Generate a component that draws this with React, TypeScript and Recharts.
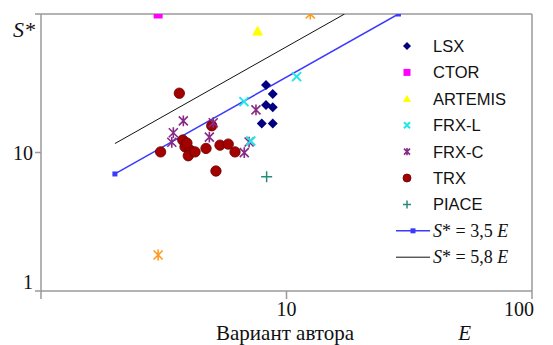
import { ScatterChart, Scatter, XAxis, YAxis, Legend, Label, ReferenceLine } from "recharts";

// E (x) and S* (y) values
const lsxE = [8.25, 8.79, 8.25, 8.79, 7.93, 8.79];
const lsxS = [30.7, 26.4, 22.0, 21.2, 16.2, 16.2];

const ctorE = [3.0];
const ctorS = [100];

const artemisE = [7.63];
const artemisS = [75.4];

const frxlE = [6.71, 11.0, 7.15];
const frxlS = [23.3, 35.3, 12.1];

const frxcE = [3.8, 3.46, 3.41, 5.03, 4.85, 7.51, 6.73, 7.04];
const frxcS = [16.9, 13.9, 11.85, 16.4, 12.9, 20.3, 9.97, 11.9];

const trxE = [3.66, 3.07, 3.78, 3.86, 4.05, 3.98, 4.24, 4.7, 4.96, 5.36, 5.79, 6.17, 5.16, 3.93];
const trxS = [26.8, 10.1, 12.3, 11.0, 10.4, 9.48, 10.1, 10.7, 15.6, 11.3, 11.5, 10.1, 7.35, 11.7];

const piaceE = [8.3];
const piaceS = [6.69];

const otherE = [3.0, 12.5];
const otherS = [1.82, 100];

const fit35E = [2.0, 28.57];
const fit35S = [7.0, 100];
const fit58E = [2.0, 17.24];
const fit58S = [11.6, 100];

const xTicks = [1, 10, 100];
const yTicks = [1, 10, 100];

const zip = (xs: number[], ys: number[]) => xs.map((x, i) => ({ x, y: ys[i] }));

const SERIF = "'Liberation Serif', 'Times New Roman', serif";
const SANS = "'Liberation Sans', Arial, sans-serif";
const AXIS = "#9a9a9a";

const C = {
  lsx: "#000080",
  ctor: "#ff00ff",
  artemis: "#ffff00",
  frxl: "#22e6e6",
  frxc: "#862a86",
  trx: "#a30000",
  piace: "#2a8a7a",
  other: "#ff9a1a",
  blue: "#3a3aff",
};

const diamond = (cx: number, cy: number, s: number, fill: string) => (
  <path d={`M${cx},${cy - s}L${cx + s},${cy}L${cx},${cy + s}L${cx - s},${cy}Z`} fill={fill} />
);
const square = (cx: number, cy: number, s: number, fill: string) => (
  <rect x={cx - s} y={cy - s} width={s * 2} height={s * 2} fill={fill} />
);
const triangle = (cx: number, cy: number, s: number, fill: string) => (
  <path d={`M${cx},${cy - s}L${cx + s},${cy + s * 0.8}L${cx - s},${cy + s * 0.8}Z`} fill={fill} />
);
const xMark = (cx: number, cy: number, s: number, stroke: string) => (
  <path d={`M${cx - s},${cy - s}L${cx + s},${cy + s}M${cx + s},${cy - s}L${cx - s},${cy + s}`} stroke={stroke} strokeWidth={2} />
);
const star = (cx: number, cy: number, s: number, stroke: string) => (
  <path
    d={`M${cx - s},${cy - s}L${cx + s},${cy + s}M${cx + s},${cy - s}L${cx - s},${cy + s}M${cx},${cy - s * 1.2}L${cx},${cy + s * 1.2}`}
    stroke={stroke}
    strokeWidth={1.6}
  />
);
const plus = (cx: number, cy: number, s: number, stroke: string) => (
  <path d={`M${cx - s},${cy}L${cx + s},${cy}M${cx},${cy - s}L${cx},${cy + s}`} stroke={stroke} strokeWidth={1.5} />
);
const dot = (cx: number, cy: number, r: number, fill: string) => (
  <circle cx={cx} cy={cy} r={r} fill={fill} stroke="#6a0000" strokeWidth={0.8} />
);

const legendRows = [
  { name: "LSX", icon: (x: number, y: number) => diamond(x, y, 4, C.lsx) },
  { name: "CTOR", icon: (x: number, y: number) => square(x, y, 3.5, C.ctor) },
  { name: "ARTEMIS", icon: (x: number, y: number) => triangle(x, y, 4, C.artemis) },
  { name: "FRX-L", icon: (x: number, y: number) => xMark(x, y, 3, C.frxl) },
  { name: "FRX-C", icon: (x: number, y: number) => star(x, y, 3, C.frxc) },
  { name: "TRX", icon: (x: number, y: number) => dot(x, y, 4, C.trx) },
  { name: "PIACE", icon: (x: number, y: number) => plus(x, y, 4, C.piace) },
];

const LegendBox = () => (
  <svg width={125} height={240} style={{ background: "#fff", display: "block" }}>
    {legendRows.map((r, i) => {
      const cy = 13 + i * 26.4;
      return (
        <g key={r.name}>
          {r.icon(12, cy)}
          <text x={38} y={cy + 6} fontFamily={SANS} fontSize={16.5} fill="#111">
            {r.name}
          </text>
        </g>
      );
    })}
    {[
      { k: "3,5", stroke: C.blue, w: 1.5, marker: true },
      { k: "5,8", stroke: "#111", w: 1, marker: false },
    ].map((l, j) => {
      const cy = 13 + (7 + j) * 26.4;
      return (
        <g key={l.k}>
          <line x1={1} x2={35} y1={cy} y2={cy} stroke={l.stroke} strokeWidth={l.w} />
          {l.marker && square(18, cy, 2.5, C.blue)}
          <text x={38} y={cy + 6} fontFamily={SERIF} fontSize={18} fill="#111">
            <tspan fontStyle="italic">S</tspan>* = {l.k} <tspan fontStyle="italic">E</tspan>
          </text>
        </g>
      );
    })}
  </svg>
);

const XTick = (props: any) => {
  const { x, y, payload } = props;
  if (payload.value === 1) return null;
  const last = payload.value === 100;
  return (
    <text x={last ? x + 2 : x} y={y + 15} textAnchor={last ? "end" : "middle"} fontFamily={SERIF} fontSize={20} fill="#111">
      {payload.value}
    </text>
  );
};

const YTick = (props: any) => {
  const { x, y, payload } = props;
  if (payload.value === 100) return null;
  const dy = payload.value === 1 ? -2 : 7;
  return (
    <text x={x} y={y + dy} textAnchor="end" fontFamily={SERIF} fontSize={20} fill="#111">
      {payload.value}
    </text>
  );
};

const shapeOf = (fn: (cx: number, cy: number) => any) => (p: any) => <g>{fn(p.cx, p.cy)}</g>;

export default function App() {
  return (
    <div style={{ position: "absolute", left: 0, top: 0, background: "#fff" }}>
      <ScatterChart width={553} height={345} margin={{ top: 14, right: 21, left: 0, bottom: 0 }}>
        <XAxis
          dataKey="x"
          type="number"
          scale="log"
          domain={[1, 100]}
          ticks={xTicks}
          allowDataOverflow
          height={54}
          stroke={AXIS}
          strokeWidth={1.5}
          tickSize={8}
          tickLine={{ stroke: AXIS }}
          tick={XTick}
        >
          <Label
            content={(p: any) => {
              const vb = p.viewBox;
              return (
                <g>
                  <text x={vb.x + vb.width * 0.497} y={vb.y + 48.5} textAnchor="middle" fontFamily={SERIF} fontSize={21} fill="#111">
                    Вариант автора
                  </text>
                  <text x={vb.x + vb.width * 0.863} y={vb.y + 48.5} textAnchor="middle" fontFamily={SERIF} fontStyle="italic" fontSize={21} fill="#111">
                    E
                  </text>
                </g>
              );
            }}
          />
        </XAxis>
        <YAxis
          dataKey="y"
          type="number"
          scale="log"
          domain={[1, 100]}
          ticks={yTicks}
          allowDataOverflow
          width={41}
          stroke={AXIS}
          strokeWidth={1.5}
          tickSize={6}
          tickMargin={2}
          tickLine={{ stroke: AXIS }}
          tick={YTick}
        >
          <Label
            content={(p: any) => {
              const vb = p.viewBox;
              return (
                <text x={vb.x + 24} y={vb.y + 23} textAnchor="middle" fontFamily={SERIF} fontStyle="italic" fontSize={22} fill="#111">
                  S*
                </text>
              );
            }}
          />
        </YAxis>
        <ReferenceLine y={100} stroke={AXIS} strokeWidth={1.5} />
        <ReferenceLine x={100} stroke={AXIS} strokeWidth={1.5} />
        <Legend
          layout="vertical"
          align="center"
          verticalAlign="middle"
          wrapperStyle={{ left: 395, top: 33, width: 125, height: 240 }}
          content={() => <LegendBox />}
        />
        <Scatter name="S* = 5,8 E" data={zip(fit58E, fit58S)} line={{ stroke: "#111", strokeWidth: 1 }} shape={() => <g />} isAnimationActive={false} />
        <Scatter
          name="S* = 3,5 E"
          data={zip(fit35E, fit35S)}
          line={{ stroke: C.blue, strokeWidth: 1.5 }}
          shape={shapeOf((cx, cy) => square(cx, cy, 2.5, C.blue))}
          isAnimationActive={false}
        />
        <Scatter name="TRX" data={zip(trxE, trxS)} shape={shapeOf((cx, cy) => dot(cx, cy, 5.2, C.trx))} isAnimationActive={false} />
        <Scatter name="FRX-C" data={zip(frxcE, frxcS)} shape={shapeOf((cx, cy) => star(cx, cy, 4.5, C.frxc))} isAnimationActive={false} />
        <Scatter name="FRX-L" data={zip(frxlE, frxlS)} shape={shapeOf((cx, cy) => xMark(cx, cy, 4.5, C.frxl))} isAnimationActive={false} />
        <Scatter name="LSX" data={zip(lsxE, lsxS)} shape={shapeOf((cx, cy) => diamond(cx, cy, 5, C.lsx))} isAnimationActive={false} />
        <Scatter name="CTOR" data={zip(ctorE, ctorS)} shape={shapeOf((cx, cy) => square(cx, cy, 4.5, C.ctor))} isAnimationActive={false} />
        <Scatter name="ARTEMIS" data={zip(artemisE, artemisS)} shape={shapeOf((cx, cy) => triangle(cx, cy, 5.5, C.artemis))} isAnimationActive={false} />
        <Scatter name="PIACE" data={zip(piaceE, piaceS)} shape={shapeOf((cx, cy) => plus(cx, cy, 5.5, C.piace))} isAnimationActive={false} />
        <Scatter name="other" data={zip(otherE, otherS)} shape={shapeOf((cx, cy) => star(cx, cy, 4.5, C.other))} isAnimationActive={false} />
      </ScatterChart>
    </div>
  );
}
